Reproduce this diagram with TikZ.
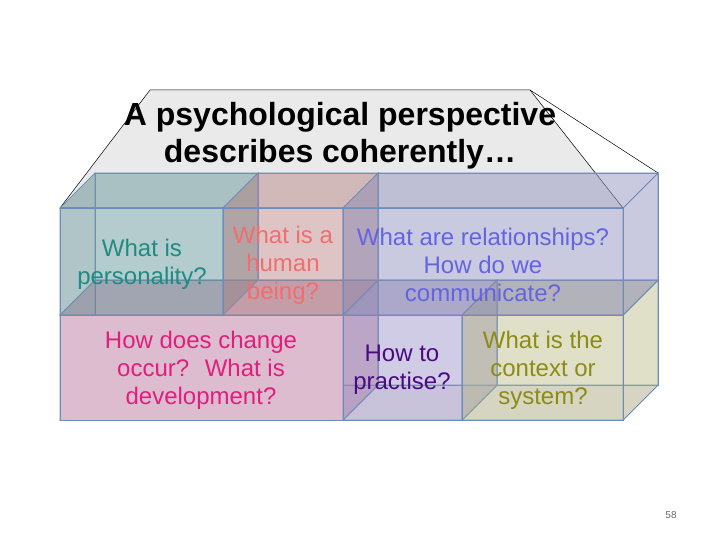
\documentclass[tikz,border=0pt]{standalone}
\usepackage{fontspec}
\setmainfont{Liberation Sans}
\definecolor{edgec}{RGB}{110,140,185}
\definecolor{roofc}{RGB}{234,234,234}
\definecolor{cA}{RGB}{110,155,160}
\definecolor{cB}{RGB}{190,140,140}
\definecolor{cC}{RGB}{150,150,195}
\definecolor{cD}{RGB}{200,130,170}
\definecolor{cDf}{RGB}{222,188,208}
\definecolor{cE}{RGB}{165,155,205}
\definecolor{cF}{RGB}{195,195,150}
\definecolor{tA}{RGB}{30,140,130}
\definecolor{tB}{RGB}{240,110,110}
\definecolor{tC}{RGB}{100,100,225}
\definecolor{tD}{RGB}{225,30,125}
\definecolor{tE}{RGB}{75,10,130}
\definecolor{tF}{RGB}{140,140,20}
\tikzset{
  face/.style={draw=edgec, line width=0.7pt, fill opacity=0.3},
  boxtext/.style={align=center, font=\fontsize{24}{28}\selectfont},
}
\newcommand\mybox[5]{%
  \filldraw[face,fill=#5] ({#1+35},{#2-35}) rectangle ({#3+35},{#4-35});
  \filldraw[face,fill=#5!80!black] ({#1},{#2}) -- ({#1},{#4}) -- ({#1+35},{#4-35}) -- ({#1+35},{#2-35}) -- cycle;
  \filldraw[face,fill=#5!75!black] ({#1},{#4}) -- ({#3},{#4}) -- ({#3+35},{#4-35}) -- ({#1+35},{#4-35}) -- cycle;
  \filldraw[face,fill=#5] ({#1},{#2}) -- ({#3},{#2}) -- ({#3+35},{#2-35}) -- ({#1+35},{#2-35}) -- cycle;
  \filldraw[face,fill=#5] ({#3},{#2}) -- ({#3},{#4}) -- ({#3+35},{#4-35}) -- ({#3+35},{#2-35}) -- cycle;
  \filldraw[face,fill=#5] ({#1},{#2}) rectangle ({#3},{#4});
}
\begin{document}
\begin{tikzpicture}[x=1pt,y=-1pt]
\useasboundingbox (0,0) rectangle (720,540);
% roof
\filldraw[fill=roofc, draw=black, line width=0.5pt] (150,90) -- (530,90) -- (623,208) -- (60,208) -- cycle;
\draw[black, line width=0.5pt] (530,90) -- (658,173);
\node[font=\bfseries\fontsize{32}{37}\selectfont, align=center, anchor=center] (title) at (340,136) {A psychological perspective\\describes coherently…};
% boxes: lower row first
\mybox{60}{315}{343}{420}{cD}
\filldraw[draw=edgec, line width=0.7pt, fill=cDf] (60,315) rectangle (343,420);
\mybox{343}{315}{462}{420}{cE}
\mybox{462}{315}{623}{420}{cF}
\mybox{60}{208}{223}{315}{cA}
\mybox{223}{208}{343}{315}{cB}
\mybox{343}{208}{623}{315}{cC}
% texts
\node[boxtext, text=tA] (tA) at (142,264) {What is\\personality?};
\node[boxtext, text=tB] (tB) at (283,265) {What is a\\human\\being?};
\node[boxtext, text=tC] (tC) at (483,265) {What are relationships?\\How do we\\communicate?};
\node[boxtext, text=tD] (tD) at (201,370) {How does change\\occur?~ What is\\development?};
\node[boxtext, text=tE] (tE) at (402,370) {How to\\practise?};
\node[boxtext, text=tF] (tF) at (543,370) {What is the\\context or\\system?};
\node[font=\fontsize{10}{12}\selectfont, text=black!60] (pg) at (671,515) {58};
\end{tikzpicture}
\end{document}
